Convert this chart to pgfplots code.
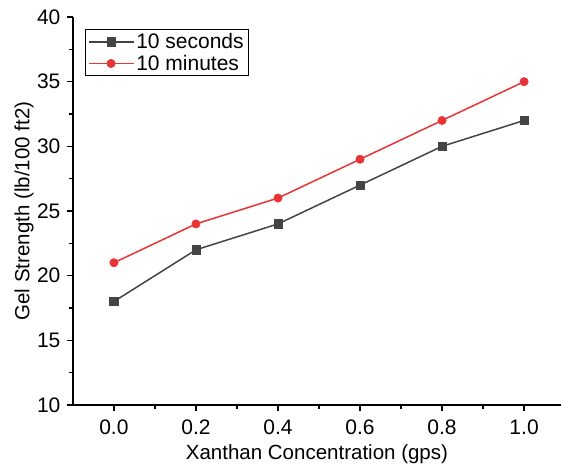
\documentclass[border=0pt]{standalone}
\usepackage{pgfplots}
\pgfplotsset{compat=1.18}
\usepackage{fontspec}
\setmainfont{Liberation Sans}
\definecolor{cgray}{RGB}{68,68,68}
\definecolor{cred}{RGB}{232,52,52}
\begin{document}
\begin{tikzpicture}
\useasboundingbox (-72.9pt,-60pt) rectangle (488.1pt,405pt);
\begin{axis}[
  at={(0pt,0pt)}, anchor=south west,
  scale only axis, width=488.1pt, height=388pt,
  xmin=-0.1, xmax=1.09, ymin=10, ymax=40,
  axis x line=bottom, axis y line=left,
  axis line style={-, line width=1.6pt, black},
  xtick={0,0.2,0.4,0.6,0.8,1.0},
  ytick={10,15,20,25,30,35,40},
  minor x tick num=1, minor y tick num=1,
  tick align=outside,
  major tick length=6pt, minor tick length=4pt,
  tick style={line width=1.3pt, black},
  x tick label style={/pgf/number format/fixed, /pgf/number format/fixed zerofill, /pgf/number format/precision=1, yshift=-5pt},
  /pgf/number format/assume math mode=true,
  ticklabel style={font=\fontsize{21}{24}\selectfont},
  y tick label style={xshift=-3pt},
  label style={font=\fontsize{20.5}{24}\selectfont},
  xlabel={Xanthan Concentration (gps)},
  ylabel={Gel Strength (lb/100 ft2)},
  xlabel style={at={(axis description cs:0.5,0)}, anchor=center, yshift=-49pt},
  ylabel style={at={(axis description cs:-0.1,0.5)}, anchor=center},
  legend style={at={(0,1)}, anchor=north west, xshift=12pt, yshift=-12pt,
    draw=black, line width=0.8pt, font=\fontsize{21}{24}\selectfont,
    inner xsep=2.5pt, inner ysep=2pt, row sep=1pt, cells={anchor=west}},
  legend image code/.code={
    \draw[#1, line width=1.5pt] (0pt,0pt) -- (45pt,0pt);
    \draw[#1, only marks] plot coordinates {(22.5pt,0pt)};
  },
  clip=false,
]
\addplot[cgray, line width=1.5pt, mark=square*, mark size=4.2pt, mark options={fill=cgray, draw=cgray, line width=0.5pt}]
  coordinates {(0,18) (0.2,22) (0.4,24) (0.6,27) (0.8,30) (1.0,32)};
\addlegendentry{10 seconds}
\addplot[cred, line width=1.5pt, mark=*, mark size=4.2pt, mark options={fill=cred, draw=cred, line width=0.5pt}]
  coordinates {(0,21) (0.2,24) (0.4,26) (0.6,29) (0.8,32) (1.0,35)};
\addlegendentry{10 minutes}
\end{axis}
\end{tikzpicture}
\end{document}
